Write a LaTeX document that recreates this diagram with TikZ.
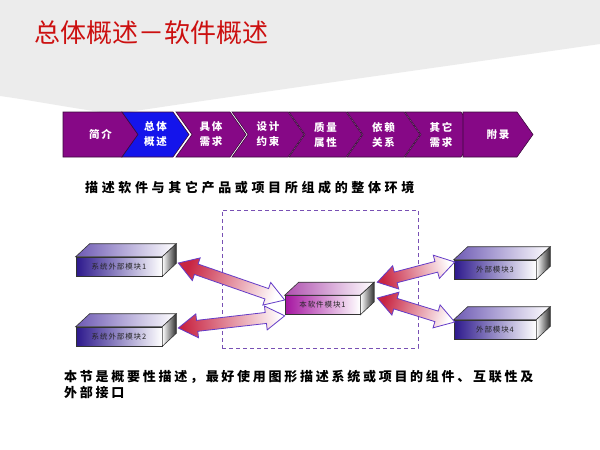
\documentclass[tikz,border=0pt]{standalone}
\usepackage{fontspec}
\newfontfamily\cjk{Noto Sans CJK SC}
\usetikzlibrary{calc}
\definecolor{titlered}{RGB}{204,16,16}
\definecolor{chevpurple}{RGB}{134,8,134}
\definecolor{chevblue}{RGB}{20,20,235}
\definecolor{chevline}{RGB}{60,10,60}
\definecolor{topgray}{RGB}{236,236,236}
\definecolor{dashpurple}{RGB}{120,80,180}
\definecolor{arrred}{RGB}{200,36,66}
\definecolor{arrline}{RGB}{100,60,200}
\definecolor{extdark}{RGB}{44,24,140}
\definecolor{exttop}{RGB}{110,90,180}
\definecolor{maindark}{RGB}{165,20,160}
\definecolor{maintop}{RGB}{175,80,175}
\definecolor{sidedark}{RGB}{45,45,45}
\tikzset{
  chevbox/.style={draw=chevline, line width=0.6pt},
  chevtext/.style={text=white, inner sep=0pt, align=center,
    font=\cjk\bfseries\fontsize{10.5}{15}\selectfont\addfontfeatures{LetterSpace=15}},
  slabfront/.style={draw=black!80, line width=0.6pt, inner sep=0pt, minimum height=19,
    text=black!85, font=\cjk\fontsize{7.5}{9}\selectfont\addfontfeatures{LetterSpace=12}},
  slabedge/.style={draw=black!80, line width=0.6pt},
  arrowbody/.style={draw=arrline, line width=0.8pt},
  envbox/.style={draw=dashpurple, line width=0.9pt, dash pattern=on 4pt off 3pt, inner sep=0pt},
  bodytext/.style={inner sep=0pt, anchor=west, text=black,
    font=\cjk\bfseries\fontsize{13}{16}\selectfont\addfontfeatures{LetterSpace=21}},
  captext/.style={bodytext, font=\cjk\bfseries\fontsize{13}{16}\selectfont\addfontfeatures{LetterSpace=28}}
}
\newcommand\chevron[6]{%
  \ifnum#6=1
    \filldraw[fill=#4, chevbox] (#2,112) -- ({#3-16},112) -- (#3,134.5) -- ({#3-16},157) -- (#2,157) -- cycle;
  \else
    \filldraw[fill=#4, chevbox] (#2,112) -- ({#3-16},112) -- (#3,134.5) -- ({#3-16},157) -- (#2,157) -- ({#2+16},134.5) -- cycle;
  \fi
  \node[chevtext] (#1) at ({(#2+#3)/2},134.5) {#5};
}
\newcommand\slab[7]{%
  \node[slabfront, minimum width=#4, left color=#5, right color=white] (#1) at (#2,#3) {#7};
  \shadedraw[slabedge, left color=#6, right color=white] (#1.north west) -- ++(14,-13) -- ($(#1.north east)+(14,-13)$) -- (#1.north east) -- cycle;
  \shadedraw[slabedge, left color=white, right color=sidedark] (#1.north east) -- ++(14,-13) -- ($(#1.south east)+(14,-13)$) -- (#1.south east) -- cycle;
}
\newcommand\blockarrow[3]{%
  \coordinate (#1h) at ($(#1)!19pt!(#2)$);
  \coordinate (#2h) at ($(#2)!19pt!(#1)$);
  \shadedraw[arrowbody, left color=arrred, right color=white, shading angle=#3]
    (#1) -- ($(#1h)!12pt!90:(#2)$) -- ($(#1h)!5.5pt!90:(#2)$) -- ($(#2h)!5.5pt!-90:(#1)$)
    -- ($(#2h)!12pt!-90:(#1)$) -- (#2) -- ($(#2h)!12pt!90:(#1)$) -- ($(#2h)!5.5pt!90:(#1)$)
    -- ($(#1h)!5.5pt!-90:(#2)$) -- ($(#1h)!12pt!-90:(#2)$) -- cycle;
}
\begin{document}
\begin{tikzpicture}[x=1pt, y=-1pt]
\useasboundingbox (0,0) rectangle (600,450);
\fill[white] (0,0) rectangle (600,450);
% grey header band
\fill[topgray] (0,0) -- (600,0) -- (600,44) .. controls (420,70) and (260,92) .. (115,114)
  .. controls (70,108) and (30,100) .. (0,96) -- cycle;
\node[inner sep=0pt, anchor=west, text=titlered, font=\cjk\fontsize{26}{30}\selectfont] (title) at (34,33) {总体概述－软件概述};
% chevron bar
\chevron{c1}{63}{138}{chevpurple}{简介}{1}
\chevron{c2}{122}{189}{chevblue}{总体\\概述}{0}
\chevron{c3}{176}{246}{chevpurple}{具体\\需求}{0}
\chevron{c4}{232}{304}{chevpurple}{设计\\约束}{0}
\chevron{c5}{289}{362}{chevpurple}{质量\\属性}{0}
\chevron{c6}{347}{420}{chevpurple}{依赖\\关系}{0}
\chevron{c7}{405}{477}{chevpurple}{其它\\需求}{0}
\chevron{c8}{463}{533}{chevpurple}{附录}{1}
% caption
\node[captext] (cap) at (85,188) {描述软件与其它产品或项目所组成的整体环境};
% environment box
\node[envbox, minimum width=196, minimum height=138] (env) at (320,279) {};
% boxes
\slab{e1}{119}{266.5}{86}{extdark}{exttop}{系统外部模块1}
\slab{e2}{119}{336.5}{86}{extdark}{exttop}{系统外部模块2}
\slab{m}{322.5}{305}{75}{maindark}{maintop}{本软件模块1}
\slab{e3}{495}{269.5}{82}{extdark}{exttop}{外部模块3}
\slab{e4}{495}{329.5}{82}{extdark}{exttop}{外部模块4}
% arrow end points
\coordinate (a1) at ($(e1.east)+(16,-3.5)$);
\coordinate (b1) at ($(m.west)+(0,-5)$);
\coordinate (a2) at ($(e2.east)+(16,-8.5)$);
\coordinate (b2) at ($(m.south west)+(0,1)$);
\coordinate (a3) at ($(m.north east)+(17,-13)$);
\coordinate (b3) at ($(e3.west)+(1,-7.5)$);
\coordinate (a4) at ($(m.east)+(17,-7)$);
\coordinate (b4) at ($(e4.west)+(1,-7.5)$);
\blockarrow{a1}{b1}{70.9}
\blockarrow{a2}{b2}{96.4}
\blockarrow{a3}{b3}{104.4}
\blockarrow{a4}{b4}{72.9}
% bottom text
\node[bodytext] (t1) at (64,377) {本节是概要性描述，最好使用图形描述系统或项目的组件、互联性及};
\node[bodytext] (t2) at (64,393) {外部接口};
\end{tikzpicture}
\end{document}
